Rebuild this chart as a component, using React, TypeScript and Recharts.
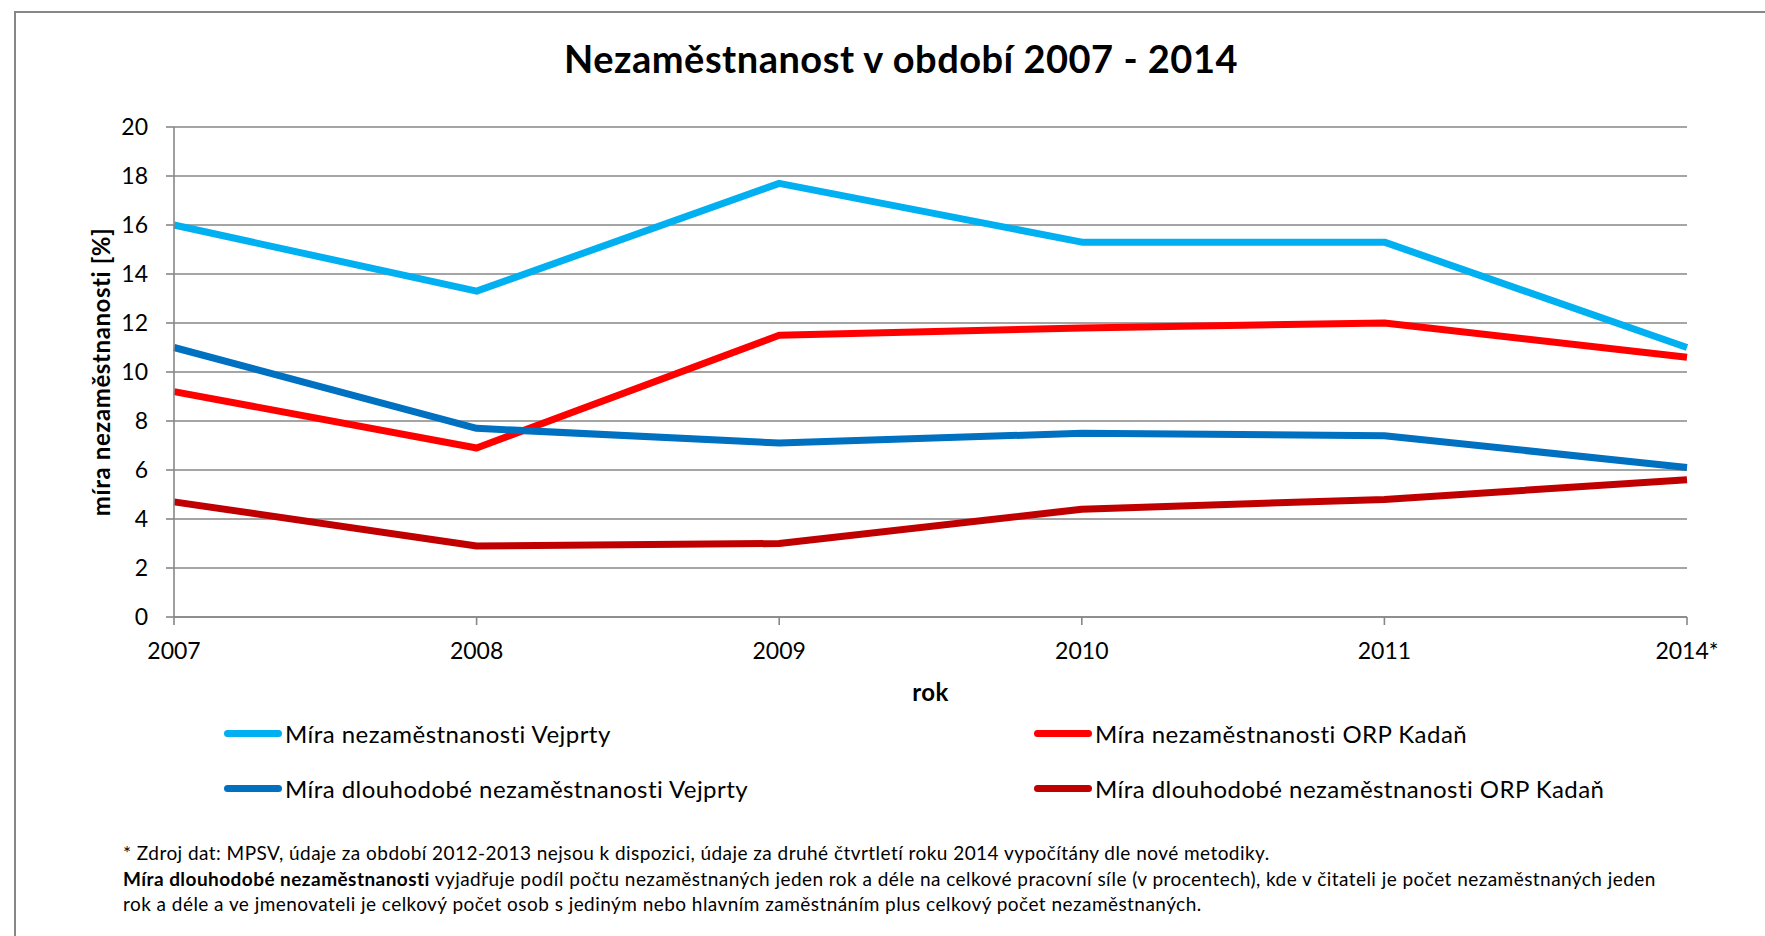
import React from 'react';
import { LineChart, Line, XAxis, YAxis, CartesianGrid } from 'recharts';

const years = ['2007', '2008', '2009', '2010', '2011', '2014*'];
const vejprty = [16.0, 13.3, 17.7, 15.3, 15.3, 11.0];
const kadan = [9.2, 6.9, 11.5, 11.8, 12.0, 10.6];
const vejprtyLong = [11.0, 7.7, 7.1, 7.5, 7.4, 6.1];
const kadanLong = [4.7, 2.9, 3.0, 4.4, 4.8, 5.6];
const yTicks = [0, 2, 4, 6, 8, 10, 12, 14, 16, 18, 20];

const seriesKeys = ['vejprty', 'kadan', 'vejprtyLong', 'kadanLong'];
const seriesNames = [
  'Míra nezaměstnanosti Vejprty',
  'Míra nezaměstnanosti ORP Kadaň',
  'Míra dlouhodobé nezaměstnanosti Vejprty',
  'Míra dlouhodobé nezaměstnanosti ORP Kadaň',
];
const seriesColors = ['#00B0F0', '#FF0000', '#0070C0', '#C00000'];
const seriesValues = [vejprty, kadan, vejprtyLong, kadanLong];

const title = 'Nezaměstnanost v období 2007 - 2014';
const xTitle = 'rok';
const yTitle = 'míra nezaměstnanosti [%]';
const note1 =
  '* Zdroj dat: MPSV, údaje za období 2012-2013 nejsou k dispozici, údaje za druhé čtvrtletí roku 2014 vypočítány dle nové metodiky.';
const note2Bold = 'Míra dlouhodobé nezaměstnanosti';
const note2 =
  ' vyjadřuje podíl počtu nezaměstnaných jeden rok a déle na celkové pracovní síle (v procentech), kde v čitateli je počet nezaměstnaných jeden';
const note3 =
  'rok a déle a ve jmenovateli je celkový počet osob s jediným nebo hlavním zaměstnáním plus celkový počet nezaměstnaných.';

const data = years.map((y, i) => {
  const row: Record<string, string | number> = { year: y };
  seriesKeys.forEach((k, s) => {
    row[k] = seriesValues[s][i];
  });
  return row;
});

const FONT = 'Lato, "Open Sans", sans-serif';
const GRID = '#878787';

const legendPos = [
  { left: 224, top: 733 },
  { left: 1034, top: 733 },
  { left: 224, top: 788 },
  { left: 1034, top: 788 },
];

export default function App() {
  return (
    <div
      style={{
        position: 'fixed',
        left: 0,
        top: 0,
        width: 1765,
        height: 936,
        background: '#fff',
        fontFamily: FONT,
        color: '#000',
        overflow: 'hidden',
      }}
    >
      <div
        style={{
          position: 'absolute',
          left: 14,
          top: 11,
          width: 1800,
          height: 1000,
          borderLeft: `2px solid ${GRID}`,
          borderTop: `2px solid ${GRID}`,
        }}
      />
      <div
        style={{
          position: 'absolute',
          left: 0,
          width: 1802,
          top: 58 - 25,
          height: 50,
          lineHeight: '50px',
          textAlign: 'center',
          fontSize: 38,
          letterSpacing: 0.5,
          fontWeight: 700,
          whiteSpace: 'nowrap',
        }}
      >
        {title}
      </div>
      <div style={{ position: 'absolute', left: 0, top: 0 }}>
        <LineChart
          width={1765}
          height={936}
          data={data}
          margin={{ top: 127, right: 78, bottom: 219, left: 0 }}
        >
          <CartesianGrid horizontal vertical={false} stroke={GRID} strokeWidth={1.6} />
          <XAxis
            dataKey="year"
            interval={0}
            height={100}
            tickSize={8}
            tickMargin={18}
            stroke={GRID}
            strokeWidth={1.6}
            tick={{ fill: '#000', fontSize: 23, fontFamily: FONT }}
            label={{
              value: xTitle,
              position: 'center',
              dy: 25,
              style: { fill: '#000', fontSize: 24, fontWeight: 700, fontFamily: FONT, letterSpacing: 0.5 },
            }}
          />
          <YAxis
            domain={[0, 20]}
            ticks={yTicks}
            interval={0}
            width={174}
            tickSize={8}
            tickMargin={18}
            stroke={GRID}
            strokeWidth={1.6}
            tick={{ fill: '#000', fontSize: 23, fontFamily: FONT }}
            label={{
              value: yTitle,
              angle: -90,
              position: 'center',
              dx: 14,
              style: {
                fill: '#000',
                fontSize: 24,
                fontWeight: 700,
                fontFamily: FONT,
                textAnchor: 'middle',
                letterSpacing: 0.6,
              },
            }}
          />
          {seriesKeys.map((k, i) => (
            <Line
              key={k}
              type="linear"
              dataKey={k}
              name={seriesNames[i]}
              stroke={seriesColors[i]}
              strokeWidth={7}
              strokeLinejoin="round"
              dot={false}
              activeDot={false}
              isAnimationActive={false}
            />
          ))}
        </LineChart>
      </div>
      {seriesNames.map((n, i) => (
        <div
          key={n}
          style={{
            position: 'absolute',
            left: legendPos[i].left,
            top: legendPos[i].top - 16,
            height: 32,
            display: 'flex',
            alignItems: 'center',
            whiteSpace: 'nowrap',
            fontSize: 24,
            letterSpacing: 0.45,
          }}
        >
          <div
            style={{
              width: 58,
              height: 7,
              borderRadius: 4,
              background: seriesColors[i],
              marginRight: 3,
            }}
          />
          <span>{n}</span>
        </div>
      ))}
      {[note1, null, note3].map((t, i) => (
        <div
          key={i}
          style={{
            position: 'absolute',
            left: 123,
            top: [853, 879, 904][i] - 13,
            height: 26,
            lineHeight: '26px',
            fontSize: 19,
            letterSpacing: 0.45,
            whiteSpace: 'nowrap',
          }}
        >
          {i === 1 ? (
            <>
              <b>{note2Bold}</b>
              {note2}
            </>
          ) : (
            t
          )}
        </div>
      ))}
    </div>
  );
}
